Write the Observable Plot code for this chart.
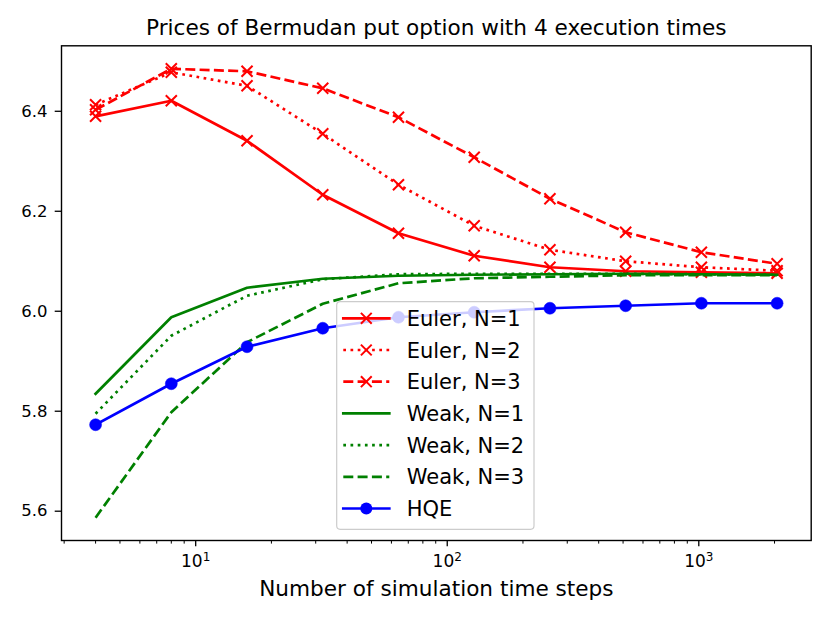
<!DOCTYPE html>
<html><head><meta charset="utf-8">
<script src="https://cdn.jsdelivr.net/npm/d3@7"></script>
<script src="https://cdn.jsdelivr.net/npm/@observablehq/plot@0.6"></script>
<style>
body{margin:0;background:#fff;}
svg{font-family:"DejaVu Sans",sans-serif;}
</style>
</head><body><div id="chart"></div>
<script>
const steps = [4, 8, 16, 32, 64, 128, 256, 512, 1024, 2048];
const euler1 = [6.390, 6.421, 6.341, 6.233, 6.156, 6.111, 6.088, 6.080, 6.078, 6.076];
const euler2 = [6.413, 6.478, 6.451, 6.355, 6.253, 6.171, 6.123, 6.100, 6.088, 6.081];
const euler3 = [6.403, 6.485, 6.480, 6.446, 6.388, 6.308, 6.225, 6.158, 6.118, 6.095];
const weak1  = [5.835, 5.988, 6.047, 6.065, 6.071, 6.073, 6.074, 6.075, 6.074, 6.073];
const weak2  = [5.795, 5.951, 6.031, 6.064, 6.074, 6.075, 6.075, 6.075, 6.074, 6.073];
const weak3  = [5.587, 5.798, 5.938, 6.015, 6.056, 6.066, 6.069, 6.072, 6.072, 6.072];
const hqe    = [5.773, 5.855, 5.929, 5.966, 5.988, 5.998, 6.006, 6.011, 6.016, 6.016];
const yTicks = [5.6, 5.8, 6.0, 6.2, 6.4];
const xTicks = [10, 100, 1000];
const xMinor = [3,4,5,6,7,8,9,20,30,40,50,60,70,80,90,200,300,400,500,600,700,800,900,2000];
const title = "Prices of Bermudan put option with 4 execution times";
const xLabel = "Number of simulation time steps";

const DASHED = "10,4.3", DOTTED = "2.7,4.5";
const series = [
  {name: "Euler, N=1", values: euler1, color: "red",   dash: null,   marker: "x"},
  {name: "Euler, N=2", values: euler2, color: "red",   dash: DOTTED, marker: "x"},
  {name: "Euler, N=3", values: euler3, color: "red",   dash: DASHED, marker: "x"},
  {name: "Weak, N=1",  values: weak1,  color: "green", dash: null,   marker: null},
  {name: "Weak, N=2",  values: weak2,  color: "green", dash: DOTTED, marker: null},
  {name: "Weak, N=3",  values: weak3,  color: "green", dash: DASHED, marker: null},
  {name: "HQE",        values: hqe,    color: "blue",  dash: null,   marker: "o"}
];
const LW = 2.7;

const marks = [];
for (const s of series) {
  const data = steps.map((x, i) => ({x, y: s.values[i]}));
  marks.push(Plot.line(data, {x: "x", y: "y", stroke: s.color, strokeWidth: LW,
    strokeDasharray: s.dash || undefined, strokeLinecap: s.dash ? "butt" : "square", strokeLinejoin: "round"}));
  if (s.marker === "x") marks.push(Plot.dot(data, {x: "x", y: "y", symbol: "times", r: 5.1, stroke: s.color, strokeWidth: 2}));
  if (s.marker === "o") marks.push(Plot.dot(data, {x: "x", y: "y", symbol: "circle", r: 6, fill: s.color, stroke: s.color, strokeWidth: 0.5}));
}

const chart = Plot.plot({
  width: 830, height: 623,
  marginLeft: 61, marginRight: 19.3, marginTop: 45.3, marginBottom: 83,
  style: {fontFamily: "DejaVu Sans", color: "black", background: "white", overflow: "visible"},
  x: {type: "log", domain: [2.928, 2798]},
  y: {domain: [5.5414, 6.531]},
  marks: [
    Plot.axisY({ticks: yTicks, tickFormat: d3.format(".1f"), tickSize: 6.3, tickPadding: 7.7, fontSize: 16.5, label: null, strokeWidth: 1.3}),
    Plot.axisX({ticks: xMinor, tickSize: 3.6, tickFormat: () => "", label: null, strokeWidth: 1}),
    Plot.axisX({ticks: xTicks, tickFormat: d => String(Math.round(Math.log10(d))), tickSize: 6.3, tickPadding: 8, fontSize: 17, label: null, strokeWidth: 1.3}),
    ...marks,
    Plot.frame({stroke: "black", strokeWidth: 1.4}),
    Plot.text([title], {frameAnchor: "top", dy: -18, lineAnchor: "middle", fontSize: 21.6, fill: "black"}),
    Plot.text([xLabel], {frameAnchor: "bottom", dy: 49, lineAnchor: "middle", fontSize: 21.6, fill: "black"})
  ]
});

const svg = d3.select(chart);
// superscript exponents on x tick labels
svg.selectAll('g[aria-label="x-axis tick label"] text').each(function() {
  const t = d3.select(this);
  const e = t.text();
  if (!e) return;
  t.text("10");
  t.append("tspan").attr("dy", "-0.45em").attr("font-size", "12px").text(e);
});

// legend
const lg = svg.append("g").attr("font-family", "DejaVu Sans").attr("text-anchor", "start");
lg.append("rect").attr("x", 336.7).attr("y", 301.7).attr("width", 197.3).attr("height", 227.6)
  .attr("rx", 3.5).attr("fill", "white").attr("fill-opacity", 0.8).attr("stroke", "#cccccc").attr("stroke-width", 1.2);
series.forEach((s, i) => {
  const yy = 318.3 + i * 31.7;
  lg.append("line").attr("x1", 343.3).attr("x2", 389.3).attr("y1", yy).attr("y2", yy)
    .attr("stroke", s.color).attr("stroke-width", LW)
    .attr("stroke-dasharray", s.dash || null).attr("stroke-linecap", s.dash ? "butt" : "square");
  if (s.marker === "x") {
    const r = 5.4;
    lg.append("path").attr("d", `M${366.3-r},${yy-r}L${366.3+r},${yy+r}M${366.3-r},${yy+r}L${366.3+r},${yy-r}`)
      .attr("stroke", s.color).attr("stroke-width", 2).attr("fill", "none");
  }
  if (s.marker === "o") {
    lg.append("circle").attr("cx", 366.3).attr("cy", yy).attr("r", 6).attr("fill", s.color);
  }
  lg.append("text").attr("x", 406.7).attr("y", yy).attr("dy", "0.36em").attr("font-size", 21).attr("fill", "black").text(s.name);
});

document.getElementById("chart").appendChild(chart);
</script>
</body></html>
